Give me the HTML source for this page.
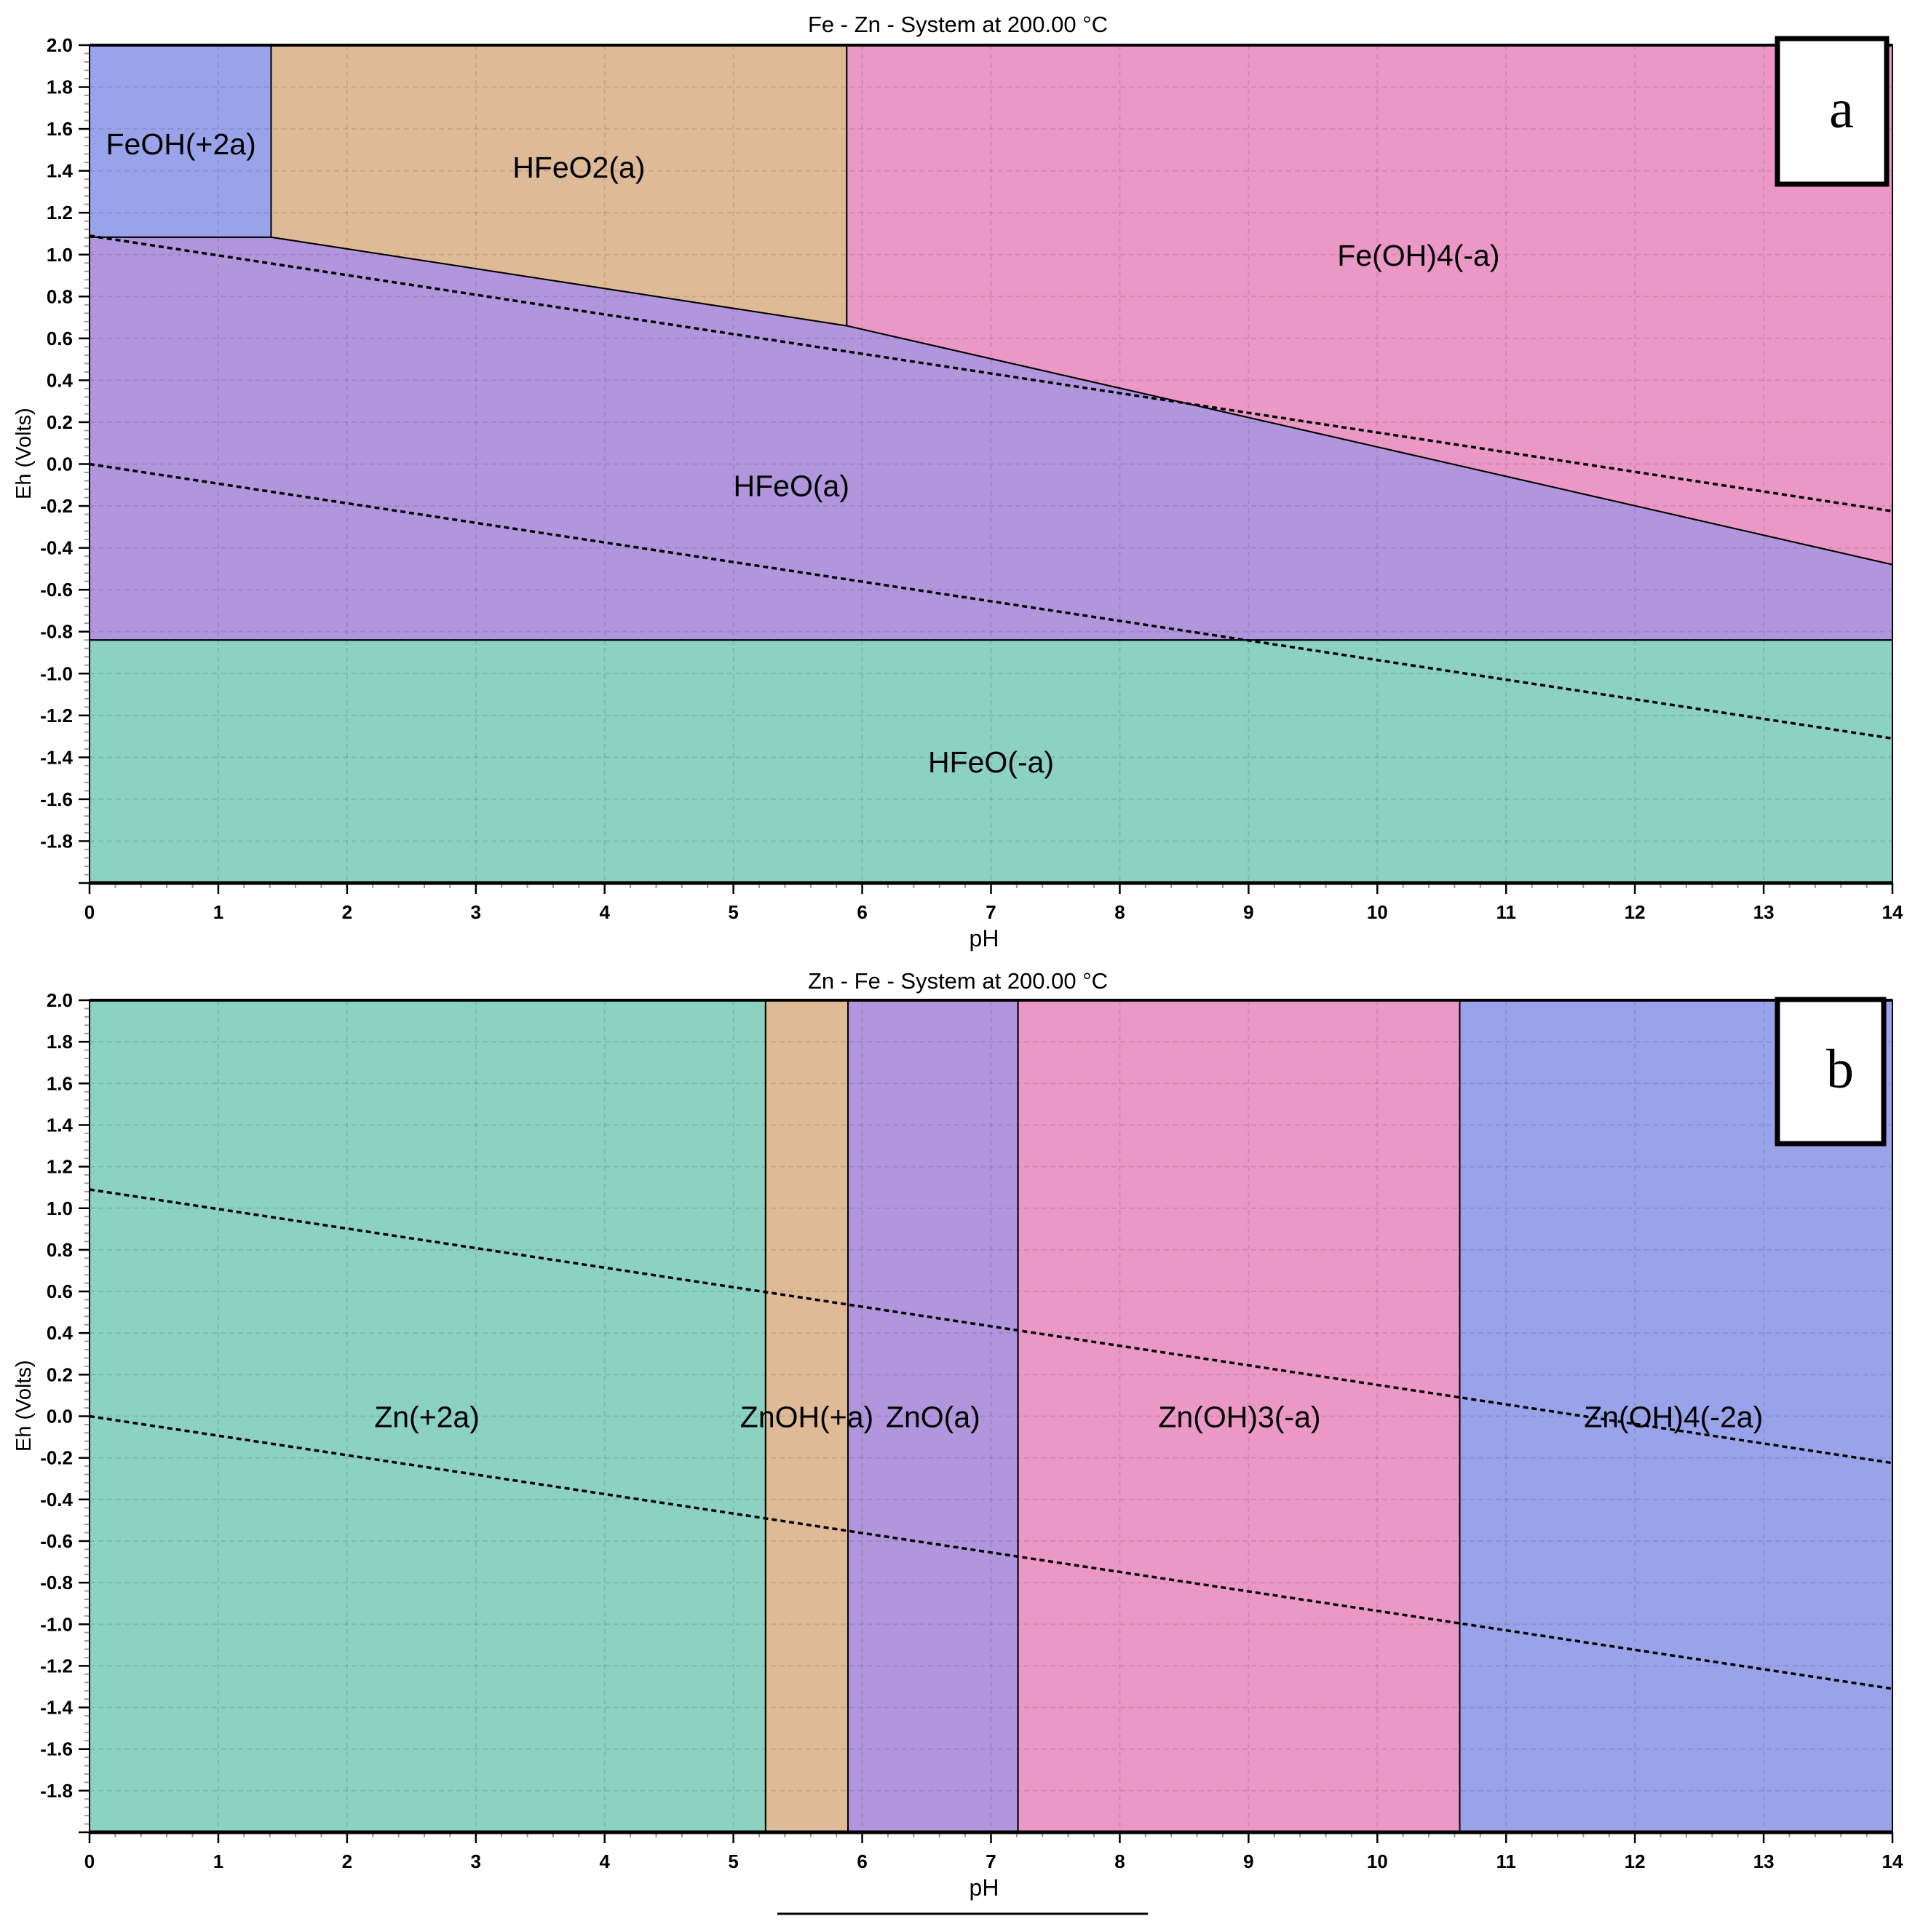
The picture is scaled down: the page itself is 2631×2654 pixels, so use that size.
<!DOCTYPE html>
<html><head><meta charset="utf-8"><style>
html,body{margin:0;padding:0;background:#fff;}
svg{display:block;font-family:"Liberation Sans",sans-serif;}
</style></head>
<body>
<svg id="chart" width="2631" height="2654" viewBox="0 0 2631 2654" xmlns="http://www.w3.org/2000/svg">
<rect width="2631" height="2654" fill="#fff"/>
</svg>
<script>
// ---- data ----
const xTicks = [0,1,2,3,4,5,6,7,8,9,10,11,12,13,14];
const yTicks = [2.0,1.8,1.6,1.4,1.2,1.0,0.8,0.6,0.4,0.2,0.0,-0.2,-0.4,-0.6,-0.8,-1.0,-1.2,-1.4,-1.6,-1.8];
const waterUpper = [[0,1.09],[14,-0.225]];
const waterLower = [[0,0.0],[14,-1.31]];
// Panel a regions (pH, Eh)
const regionsANames = ["FeOH(+2a)","HFeO2(a)","Fe(OH)4(-a)","HFeO(a)","HFeO(-a)"];
const regionsAPolys = [
  [[0,2],[1.41,2],[1.41,1.083],[0,1.083]],
  [[1.41,2],[5.88,2],[5.88,0.66],[1.41,1.083]],
  [[5.88,2],[14,2],[14,-0.48],[5.88,0.66]],
  [[0,1.083],[1.41,1.083],[5.88,0.66],[14,-0.48],[14,-0.84],[0,-0.84]],
  [[0,-0.84],[14,-0.84],[14,-2],[0,-2]]
];
const regionsAColors = ["#99a3ea","#dfba96","#eb98c7","#b196de","#8bd2c2"];
const labelsAPos = [[0.71,1.53],[3.8,1.42],[10.32,1.0],[5.45,-0.1],[7.0,-1.42]];
// Panel b: vertical boundaries
const bBounds = [0,5.25,5.89,7.21,10.64,14];
const regionsBNames = ["Zn(+2a)","ZnOH(+a)","ZnO(a)","Zn(OH)3(-a)","Zn(OH)4(-2a)"];
const regionsBColors = ["#8bd2c2","#dfba96","#b196de","#eb98c7","#99a3ea"];
const labelsBPos = [[2.62,0.0],[5.57,0.0],[6.55,0.0],[8.93,0.0],[12.3,0.0]];

const NS="http://www.w3.org/2000/svg";
const svg=document.getElementById('chart');
function mk(tag,attrs,parent){const e=document.createElementNS(NS,tag);for(const k in attrs)e.setAttribute(k,attrs[k]);(parent||svg).appendChild(e);return e;}

function panel(id,top,bottom){
  const x0=123,x1=2600;
  const sx=v=>x0+(v/14)*(x1-x0);
  const sy=v=>top+((2-v)/4)*(bottom-top);
  const g=mk('g',{});
  
  
  return {g,sx,sy,x0,x1,top,bottom};
}

function drawAxes(p,title,titleY,letter,box){
  const {g,sx,sy,x0,x1,top,bottom}=p;
  xTicks.forEach(t=>{ if(t>0&&t<14){const l=mk('line',{x1:sx(t),x2:sx(t),y1:top,y2:bottom,stroke:'rgba(0,0,0,0.1)','stroke-width':2,'stroke-dasharray':'7,5'},g);
    
    }});
  yTicks.forEach(t=>{ if(t<2){const l=mk('line',{x1:x0,x2:x1,y1:sy(t),y2:sy(t),stroke:'rgba(0,0,0,0.1)','stroke-width':2,'stroke-dasharray':'7,5'},g);
    
    }});
  for(let i=0;i<=70;i++){const v=i*0.2;const xx=sx(v);
    const major=i%5===0;
    const t=mk('line',{x1:xx,x2:xx,y1:bottom,y2:bottom+(major?15:7),stroke:major?'#000':'#999','stroke-width':major?2.5:2},g);
    
    }
  for(let i=0;i<=100;i++){const v=2-i*0.04;const yy=sy(v);
    const major=i%5===0;
    const t=mk('line',{x1:x0-(major?15:7),x2:x0,y1:yy,y2:yy,stroke:major?'#000':'#999','stroke-width':major?2.5:2},g);
    
    }
  xTicks.forEach(t=>{const e=mk('text',{x:sx(t),y:bottom+49,'text-anchor':'middle','font-size':26,'font-weight':'bold'},g);e.textContent=t;
    
    });
  yTicks.forEach(t=>{const e=mk('text',{x:100,y:sy(t)+9,'text-anchor':'end','font-size':26,'font-weight':'bold'},g);e.textContent=t.toFixed(1);
    
    });
  [waterUpper,waterLower].forEach((w,i)=>{const l=mk('line',{x1:sx(w[0][0]),y1:sy(w[0][1]),x2:sx(w[1][0]),y2:sy(w[1][1]),stroke:'#000','stroke-width':3.5,'stroke-dasharray':'7,5'},g);
    
    });
  const f=mk('rect',{x:x0,y:top,width:x1-x0,height:bottom-top,fill:'none',stroke:'#000','stroke-width':2},g);
  
  
  mk('line',{x1:x0,x2:x1,y1:top,y2:top,stroke:'#000','stroke-width':4},g);
  mk('line',{x1:x0,x2:x1,y1:bottom,y2:bottom,stroke:'#000','stroke-width':5},g);
  const tt=mk('text',{x:1316,y:titleY,'text-anchor':'middle','font-size':31},g);tt.textContent=title;
  
  
  const xl=mk('text',{x:1352,y:bottom+87,'text-anchor':'middle','font-size':32},g);xl.textContent='pH';
  
  
  const cy=sy(0.05);
  const yl=mk('text',{x:0,y:0,'text-anchor':'middle','font-size':29,transform:`translate(42,${cy}) rotate(-90)`},g);yl.textContent='Eh (Volts)';
  
  
  const b=mk('rect',{x:box[0],y:box[1],width:box[2],height:box[3],fill:'#fff',stroke:'#000','stroke-width':7},g);
  
  
  const lt=mk('text',{x:box[0]+box[2]/2+13,y:box[1]+box[3]/2+22,'text-anchor':'middle','font-size':76,'font-family':'"Liberation Serif",serif'},g);lt.textContent=letter;
  
  
}

const pa=panel('a',62,1213);
regionsAPolys.forEach((poly,i)=>{
  const pts=poly.map(q=>pa.sx(q[0])+','+pa.sy(q[1])).join(' ');
  const r=mk('polygon',{points:pts,fill:regionsAColors[i],stroke:'#000','stroke-width':2},pa.g);
  
  
});
regionsANames.forEach((n,i)=>{
  const t=mk('text',{x:pa.sx(labelsAPos[i][0]),y:pa.sy(labelsAPos[i][1])+15,'text-anchor':'middle','font-size':41},pa.g);t.textContent=n;
  
  
});
drawAxes(pa,'Fe - Zn - System at 200.00 °C',44,'a',[2442,53,150,200]);

const pb=panel('b',1374,2517);
for(let i=0;i<bBounds.length-1;i++){
  const r=mk('rect',{x:pb.sx(bBounds[i]),y:pb.sy(2),width:pb.sx(bBounds[i+1])-pb.sx(bBounds[i]),height:pb.sy(-2)-pb.sy(2),fill:regionsBColors[i],stroke:'#000','stroke-width':2},pb.g);
  
  
}
regionsBNames.forEach((n,i)=>{
  const t=mk('text',{x:pb.sx(labelsBPos[i][0]),y:pb.sy(labelsBPos[i][1])+15,'text-anchor':'middle','font-size':41},pb.g);t.textContent=n;
  
  
});
drawAxes(pb,'Zn - Fe - System at 200.00 °C',1358,'b',[2442,1373,146,198]);

const ul=mk('line',{x1:1068,x2:1577,y1:2629,y2:2629,stroke:'#000','stroke-width':3});


</script>
</body></html>
